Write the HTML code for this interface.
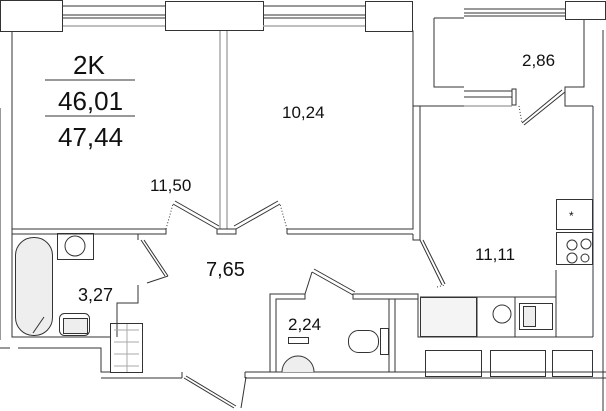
<!DOCTYPE html>
<html><head><style>
html,body{margin:0;padding:0;background:#fff;width:606px;height:411px;overflow:hidden}
svg{display:block}
text{font-family:"Liberation Sans",sans-serif;fill:#111}
</style></head><body>
<svg width="606" height="411" viewBox="0 0 606 411" xmlns="http://www.w3.org/2000/svg">
<g fill="none" stroke="#333" stroke-width="1">
<rect x="0.5" y="0.5" width="62" height="31" fill="#fff"/>
<rect x="165.5" y="1.5" width="98" height="29" fill="#fff"/>
<rect x="365.5" y="1.5" width="47" height="30" fill="#fff"/>
<path d="M63 6H165M63 15H165M63 18H165M263 6H365M263 15H365M263 18H365"/>
<path d="M63 26H165M263 26H365" stroke="#aaa" stroke-width="1.5"/>
<path d="M412 31H413V106H464M434 18H464M434 18V87H464"/>
<path d="M464 9H565M464 13H565M464 16H565"/>
<rect x="565.5" y="1.5" width="40" height="18" fill="#fff"/>
<path d="M584 19V87H565V106H593"/>
<path d="M464 91H512M464 97H512"/>
<path d="M464 106H512" stroke="#aaa" stroke-width="1.5"/>
<rect x="512" y="89" width="4" height="16"/>
<path d="M562 90L522 123M565 92L524 125"/>
<path d="M519 106L522 123" stroke-dasharray="1 2"/>
<path d="M12 31V337M603 30V411M0 108V340M593 106V337"/>
<path d="M220 31V229M227 31V229" stroke="#aaa" stroke-width="1.5"/>
<path d="M12 229H166M12 234H166V229M217 229H236V234H217Z M287 229H413V106M287 234H413M287 229V234"/>
<path d="M420 106V240M413 234V240H420"/>
<path d="M217 229L173 204M219 226L175 201M236 229L280 204M234 226L278 201"/>
<path d="M166 229L173 204M287 229L280 204M437 287L445 285" stroke-dasharray="1 2"/>
<path d="M420 240L442 285M423 240L445 284"/>
<path d="M12 234V337H110M138 234V240M138 285V303H117V337"/>
<path d="M141 240L165 276M144 240L168 276M168 276L147 283"/>
<rect x="15.5" y="237.5" width="37" height="98" rx="18" fill="#eee"/>
<path d="M33 333L44 317"/>
<rect x="57.5" y="233.5" width="36" height="26"/>
<circle cx="75" cy="246" r="10"/>
<rect x="59.5" y="313.5" width="30" height="22" rx="5"/>
<rect x="63.5" y="318.5" width="24" height="15" fill="#eee"/>
<rect x="110.5" y="323.5" width="32" height="49"/>
<path d="M127 324V372M114 330H139M114 342H139M114 354H139M114 366H139" stroke="#aaa"/>
<path d="M0 348H10M18 348H101V372H110M101 378H182M245 372H606M245 378H606"/>
<path d="M182 372V378M245 372V378"/>
<path d="M184 378L234 408M186 376L236 406M246 377L241 408"/>
<path d="M270 372V294H305V299H276V372M353 294H418V299H353Z M389 299V372M395 299V372"/>
<path d="M312 272L353 295M314 269L355 292M305 294L312 272"/>
<rect x="288.5" y="337.5" width="20" height="6"/>
<path d="M282 372A16 16 0 0 1 314 372" fill="#eee"/>
<rect x="348.5" y="330.5" width="30" height="22" rx="10"/>
<rect x="380.5" y="328.5" width="8" height="26"/>
<path d="M418 299V337H593M420 297H556V337M477 297V337M515 297V337"/>
<rect x="420.5" y="297.5" width="56" height="39" fill="#f4f4f4"/>
<rect x="519.5" y="303.5" width="33" height="26"/>
<rect x="523.5" y="306.5" width="12" height="20" fill="#eee"/>
<circle cx="502" cy="314" r="9"/>
<rect x="556.5" y="199.5" width="36" height="30"/>
<rect x="556.5" y="232.5" width="36" height="32"/>
<circle cx="572" cy="245" r="5"/><circle cx="586" cy="244" r="5"/><circle cx="572" cy="258" r="5"/><circle cx="585" cy="258" r="4"/>
<path d="M556 270V337"/>
<rect x="425.5" y="350.5" width="56" height="26"/>
<rect x="490.5" y="350.5" width="55" height="26"/>
<rect x="552.5" y="350.5" width="40" height="26"/>
</g>
<path d="M45 80H135M45 116H135" stroke="#333" stroke-width="1"/>
<text x="73" y="74" font-size="26">2K</text>
<text x="58" y="110" font-size="26">46,01</text>
<text x="58" y="146" font-size="26">47,44</text>
<text x="150" y="191" font-size="17">11,50</text>
<text x="282" y="118" font-size="17">10,24</text>
<text x="522" y="66" font-size="17">2,86</text>
<text x="475" y="260" font-size="17">11,11</text>
<text x="206" y="276" font-size="20">7,65</text>
<text x="78" y="301" font-size="18">3,27</text>
<text x="288" y="330" font-size="17">2,24</text>
<text x="569" y="220" font-size="12">*</text>
</svg>
</body></html>
